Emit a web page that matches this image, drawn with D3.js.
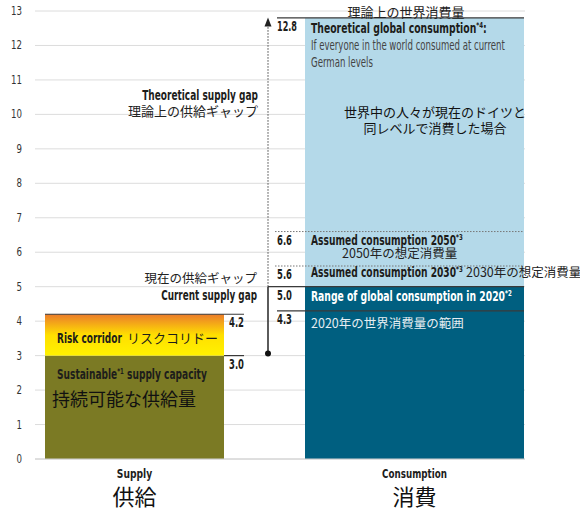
<!DOCTYPE html>
<html>
<head>
<meta charset="utf-8">
<script src="https://cdn.jsdelivr.net/npm/d3@7"></script>
<style>
  html, body { margin: 0; padding: 0; background: #fff; }
  svg { display: block; }
  .cond { font-family: "Liberation Sans Narrow", "DejaVu Sans Condensed", "Roboto", sans-serif; }
  .ja { font-family: "Noto Sans CJK JP", "Noto Sans", sans-serif; }
</style>
</head>
<body>
<svg id="chart" width="580" height="510"></svg>
<script>
// Categories on the x axis (English / Japanese)
const categories = ["Supply", "Consumption"];
const categoriesJa = ["供給", "消費"];

// Supply side (global hectares per person)
const sustainableCapacity = 3.0;
const riskCorridorTop = 4.2;

// Consumption side levels
const consumption2020Low = 4.3;
const consumption2020High = 5.0;
const consumption2030 = 5.6;
const consumption2050 = 6.6;
const theoreticalConsumption = 12.8;

// Y axis ticks
const yTicks = [0, 1, 2, 3, 4, 5, 6, 7, 8, 9, 10, 11, 12, 13];

const svg = d3.select("#chart");
const y = d3.scaleLinear().domain([0, 13]).range([459, 11]);
const x = d3.scalePoint().domain(categories).range([134.5, 414.5]);
const barWidth = { Supply: 179, Consumption: 219 };
const left = c => x(c) - barWidth[c] / 2;
const right = c => x(c) + barWidth[c] / 2;

const olive = "#7b7a24", teal = "#005f80", lightBlue = "#b4d9e9", ink = "#1d1d1b";

// Gradient for the risk corridor
const defs = svg.append("defs");
const grad = defs.append("linearGradient").attr("id", "risk").attr("x1", 0).attr("y1", 0).attr("x2", 0).attr("y2", 1);
grad.append("stop").attr("offset", "0%").attr("stop-color", "#eb7c2b");
grad.append("stop").attr("offset", "50%").attr("stop-color", "#ffdf00");
grad.append("stop").attr("offset", "100%").attr("stop-color", "#fff200");

// Gridlines
svg.append("g").selectAll("line").data(yTicks).join("line")
  .attr("x1", 35).attr("x2", 525)
  .attr("y1", d => y(d)).attr("y2", d => y(d))
  .attr("stroke", "#dcdcdc").attr("stroke-width", 1);

// Supply bar: sustainable capacity + risk corridor
svg.append("rect")
  .attr("x", left("Supply")).attr("width", barWidth.Supply)
  .attr("y", y(sustainableCapacity)).attr("height", y(0) - y(sustainableCapacity))
  .attr("fill", olive);
svg.append("rect")
  .attr("x", left("Supply")).attr("width", barWidth.Supply)
  .attr("y", y(riskCorridorTop)).attr("height", y(sustainableCapacity) - y(riskCorridorTop))
  .attr("fill", "url(#risk)");

// Consumption bar: 2020 range + theoretical consumption
svg.append("rect")
  .attr("x", left("Consumption")).attr("width", barWidth.Consumption)
  .attr("y", y(theoreticalConsumption)).attr("height", y(consumption2020High) - y(theoreticalConsumption))
  .attr("fill", lightBlue);
svg.append("rect")
  .attr("x", left("Consumption")).attr("width", barWidth.Consumption)
  .attr("y", y(consumption2020High)).attr("height", y(0) - y(consumption2020High))
  .attr("fill", teal);

// Baseline
svg.append("line").attr("x1", 35).attr("x2", 525).attr("y1", y(0)).attr("y2", y(0))
  .attr("stroke", "#d0d0d0").attr("stroke-width", 1);

// Level rules
const arrowX = 268;
const rule = (x1, x2, v, dashed) => svg.append("line")
  .attr("x1", x1).attr("x2", x2).attr("y1", y(v)).attr("y2", y(v))
  .attr("stroke", dashed ? "#777" : "#3a3a3a")
  .attr("stroke-width", dashed ? 1 : 1.2)
  .attr("stroke-dasharray", dashed ? "1.5,1.5" : null);

rule(left("Supply"), 244, riskCorridorTop);
rule(right("Supply"), 244, sustainableCapacity);
rule(277, right("Consumption"), theoreticalConsumption);
rule(275, right("Consumption"), consumption2050, true);
rule(275, right("Consumption"), consumption2030, true);
rule(arrowX, right("Consumption"), consumption2020High);
rule(277, right("Consumption"), consumption2020Low);

// Supply gap arrow: solid for current gap, dotted for theoretical gap
svg.append("line").attr("x1", arrowX).attr("x2", arrowX)
  .attr("y1", y(sustainableCapacity)).attr("y2", y(consumption2020High))
  .attr("stroke", "#333").attr("stroke-width", 1.6);
svg.append("line").attr("x1", arrowX).attr("x2", arrowX)
  .attr("y1", y(consumption2020High)).attr("y2", y(theoreticalConsumption) + 6)
  .attr("stroke", "#444").attr("stroke-width", 1).attr("stroke-dasharray", "1.5,1.5");
svg.append("path")
  .attr("d", `M${arrowX},${y(theoreticalConsumption) - 0.5} l-3.5,9 l7,0 z`)
  .attr("fill", "#222");
svg.append("circle").attr("cx", arrowX).attr("cy", y(sustainableCapacity) - 2).attr("r", 3).attr("fill", "#111");

// Text helper: condensed labels are squeezed horizontally to the given width
function label(xp, yp, opts) {
  const t = svg.append("text")
    .attr("x", 0).attr("y", 0)
    .attr("class", opts.cls || "cond")
    .attr("font-size", opts.size || 13)
    .attr("font-weight", opts.bold ? "bold" : "normal")
    .attr("fill", opts.fill || ink)
    .attr("text-anchor", opts.anchor || "start")
    .attr("transform", `translate(${xp},${yp})`);
  t.fit = () => {
    if (opts.width) {
      const natural = t.node().getComputedTextLength();
      if (natural > 0) t.attr("transform", `translate(${xp},${yp}) scale(${opts.width / natural},1)`);
    }
    return t;
  };
  return t;
}
function plain(t, s) { t.text(s); return t.fit(); }
function withSup(t, main, sup, tail) {
  t.append("tspan").text(main);
  t.append("tspan").attr("font-size", "0.6em").attr("dy", -5).text(sup);
  if (tail) t.append("tspan").attr("dy", 5).text(tail);
  return t.fit();
}

// Y axis tick labels
yTicks.forEach(d => plain(label(22, y(d) + 4, { size: 12, anchor: "end", fill: "#333", width: String(d).length * 5.5 }), String(d)));

// Value labels
const valueLabel = (xp, v) => {
  const s = v.toFixed(1);
  return plain(label(xp, y(v) + 13, { bold: true, size: 13.5, width: s.length * 5 }), s);
};
valueLabel(229, riskCorridorTop);
valueLabel(229, sustainableCapacity);
valueLabel(277, theoreticalConsumption);
valueLabel(277, consumption2050);
valueLabel(277, consumption2030);
valueLabel(277, consumption2020High);
valueLabel(277, consumption2020Low);

// Consumption bar annotations
plain(label(406, y(13) + 6, { cls: "ja", size: 13, anchor: "middle", fill: "#222" }), "理論上の世界消費量");
withSup(label(311, y(theoreticalConsumption) + 15, { bold: true, size: 13.5, width: 176 }), "Theoretical global consumption", "*4", ":");
plain(label(311, y(theoreticalConsumption) + 32, { size: 13.5, fill: "#444", width: 194 }), "If everyone in the world consumed at current");
plain(label(311, y(theoreticalConsumption) + 49, { size: 13.5, fill: "#444", width: 62 }), "German levels");
plain(label(435, 117, { cls: "ja", size: 13, anchor: "middle", fill: "#111" }), "世界中の人々が現在のドイツと");
plain(label(435, 133, { cls: "ja", size: 13, anchor: "middle", fill: "#111" }), "同レベルで消費した場合");

withSup(label(311, y(consumption2050) + 13, { bold: true, size: 13.5, width: 152 }), "Assumed consumption 2050", "*3");
plain(label(342, y(consumption2050) + 26, { cls: "ja", size: 12.5, fill: "#222" }), "2050年の想定消費量");
withSup(label(311, y(consumption2030) + 11, { bold: true, size: 13.5, width: 152 }), "Assumed consumption 2030", "*3");
plain(label(466, y(consumption2030) + 11, { cls: "ja", size: 12.5, fill: "#222" }), "2030年の想定消費量");
withSup(label(311, y(consumption2020High) + 14, { bold: true, size: 13.5, fill: "#fff", width: 201 }), "Range of global consumption in 2020", "*2");
plain(label(311, y(consumption2020Low) + 17, { cls: "ja", size: 12.5, fill: "#e6eef2" }), "2020年の世界消費量の範囲");

// Supply gap annotations
plain(label(258, 100, { bold: true, size: 13.5, anchor: "end", width: 116 }), "Theoretical supply gap");
plain(label(258, 116, { cls: "ja", size: 13, anchor: "end", fill: "#222" }), "理論上の供給ギャップ");
plain(label(257, 283, { cls: "ja", size: 12.5, anchor: "end", fill: "#222" }), "現在の供給ギャップ");
plain(label(257, 300, { bold: true, size: 13.5, anchor: "end", width: 96 }), "Current supply gap");

// Supply bar annotations
plain(label(57, 343, { bold: true, size: 13.5, width: 65 }), "Risk corridor");
plain(label(127, 343, { cls: "ja", size: 13, fill: ink }), "リスクコリドー");
withSup(label(57, 379, { bold: true, size: 13.5, width: 150 }), "Sustainable", "*1", " supply capacity");
plain(label(52, 406, { cls: "ja", size: 18, fill: "#111" }), "持続可能な供給量");

// Category axis labels
categories.forEach((c, i) => {
  plain(label(x(c), 478, { bold: true, size: 12.5, anchor: "middle", width: c.length * 5.9 }), c);
  plain(label(x(c), 505, { cls: "ja", size: 22, anchor: "middle", fill: "#111" }), categoriesJa[i]);
});
</script>
</body>
</html>
